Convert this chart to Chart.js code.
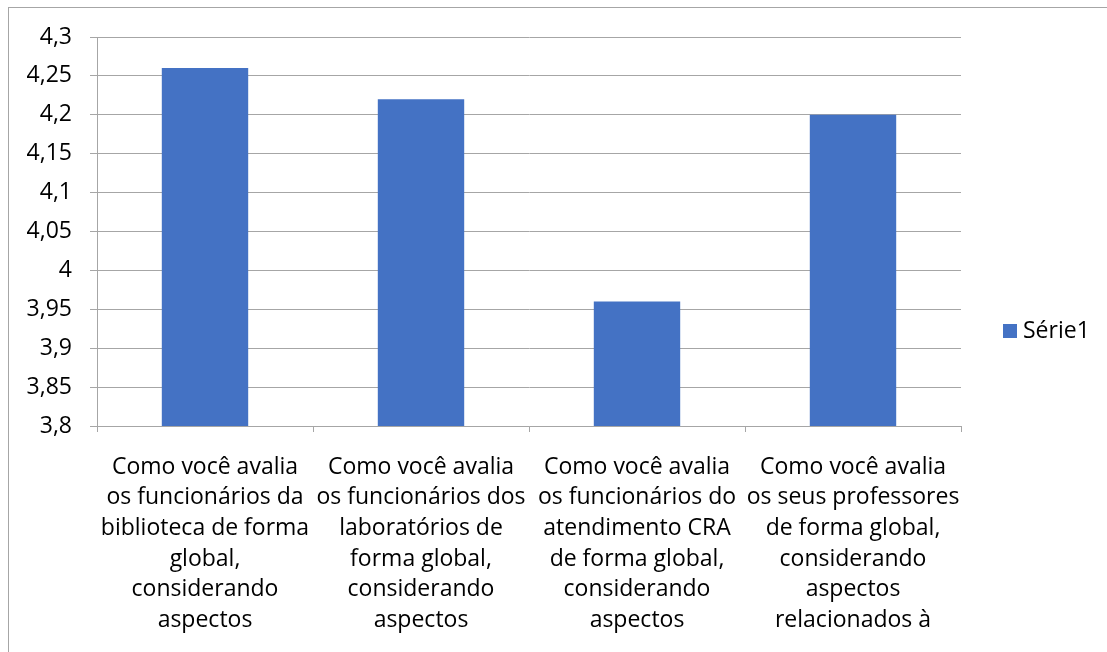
<!DOCTYPE html>
<html>
<head>
<meta charset="utf-8">
<script src="https://cdn.jsdelivr.net/npm/chart.js@4"></script>
<style>
  html, body { margin: 0; padding: 0; background: #fff; }
  #wrap { position: relative; width: 1107px; height: 652px; overflow: hidden; }
  #frame { position: absolute; left: 8px; top: 7px; width: 1200px; height: 700px;
           border-left: 1px solid #a6a6a6; border-top: 1px solid #a6a6a6; }
  canvas { position: absolute; left: 0; top: 0; }
</style>
</head>
<body>
<div id="wrap">
  <div id="frame"></div>
  <canvas id="c" width="1107" height="652"></canvas>
</div>
<script>
const categories = [
  ["Como você avalia", "os funcionários da", "biblioteca de forma", "global,", "considerando", "aspectos"],
  ["Como você avalia", "os funcionários dos", "laboratórios de", "forma global,", "considerando", "aspectos"],
  ["Como você avalia", "os funcionários do", "atendimento CRA", "de forma global,", "considerando", "aspectos"],
  ["Como você avalia", "os seus professores", "de forma global,", "considerando", "aspectos", "relacionados à"]
];
const seriesName = "Série1";
const seriesValues = [4.26, 4.22, 3.96, 4.20];
const yMin = 3.8, yMax = 4.3, yStep = 0.05;

const FONT = "'Open Sans', sans-serif";
const FSIZE = 23;
const GRAY = "#a6a6a6";
const BLUE = "#4472C4";

const legendPlugin = {
  id: 'customLegend',
  afterDraw(chart) {
    const ctx = chart.ctx;
    const ds = chart.data.datasets[0];
    ctx.save();
    ctx.fillStyle = ds.backgroundColor;
    ctx.fillRect(1003, 324, 14, 14);
    ctx.fillStyle = "#000";
    ctx.font = FSIZE + "px " + FONT;
    ctx.textBaseline = "middle";
    ctx.textAlign = "left";
    ctx.fillText(ds.label, 1023, 331);
    ctx.restore();
  }
};

new Chart(document.getElementById('c'), {
  type: 'bar',
  data: {
    labels: categories,
    datasets: [{
      label: seriesName,
      data: seriesValues,
      backgroundColor: BLUE,
      borderWidth: 0,
      categoryPercentage: 1.0,
      barPercentage: 0.4
    }]
  },
  plugins: [legendPlugin],
  options: {
    responsive: false,
    animation: false,
    devicePixelRatio: 1,
    layout: { padding: { left: 0, right: 146, top: 37, bottom: 0 } },
    plugins: { legend: { display: false }, tooltip: { enabled: false } },
    scales: {
      x: {
        afterFit(scale) { scale.height = 226; },
        grid: { display: true, drawOnChartArea: false, drawTicks: true, tickLength: 6, color: GRAY, offset: true },
        border: { display: true, color: GRAY, width: 1 },
        ticks: {
          color: "#000",
          font: { family: FONT, size: FSIZE, lineHeight: 1.33 },
          padding: 20,
          maxRotation: 0, minRotation: 0, autoSkip: false
        }
      },
      y: {
        min: yMin, max: yMax,
        afterFit(scale) { scale.width = 97; },
        grid: { color: GRAY, lineWidth: 1, drawTicks: true, tickLength: 7 },
        border: { display: true, color: GRAY, width: 1 },
        ticks: {
          stepSize: yStep,
          color: "#000",
          font: { family: FONT, size: FSIZE },
          padding: 18,
          callback: (v) => String(Math.round(v * 100) / 100).replace('.', ',')
        }
      }
    }
  }
});
</script>
</body>
</html>
